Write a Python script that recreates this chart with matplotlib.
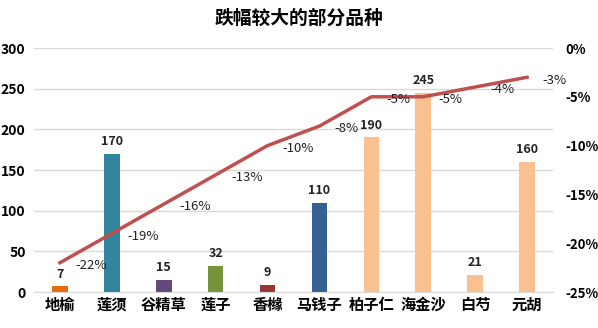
import matplotlib.pyplot as plt
from matplotlib.ticker import FuncFormatter

plt.rcParams['font.family'] = ['Noto Sans CJK SC', 'DejaVu Sans']

categories = ["地榆", "莲须", "谷精草", "莲子", "香橼", "马钱子", "柏子仁", "海金沙", "白芍", "元胡"]
volumes = [7, 170, 15, 32, 9, 110, 190, 245, 21, 160]
declines = [-22, -19, -16, -13, -10, -8, -5, -5, -4, -3]
bar_colors = ["#E46C0A", "#31859C", "#604A7B", "#77933C", "#953735", "#376092",
              "#FAC090", "#FAC090", "#FAC090", "#FAC090"]

fig = plt.figure(figsize=(5.98, 3.28), dpi=100)
ax = fig.add_axes([34 / 598, 36 / 328, 519 / 598, 244 / 328])
x = range(len(categories))

bars = ax.bar(x, volumes, width=0.3, color=bar_colors, zorder=2)
for xi, v in zip(x, volumes):
    ax.annotate(str(v), (xi, v), xytext=(0, 4), textcoords="offset points",
                ha="center", va="bottom", fontsize=9, fontweight="bold", color="#222222")

ax.set_ylim(0, 300)
ax.set_yticks(range(0, 301, 50))
ax.set_xlim(-0.5, len(categories) - 0.5)
ax.set_xticks(list(x))
ax.set_xticklabels(categories, fontsize=11, fontweight="bold")
ax.grid(axis="y", color="#D9D9D9", linewidth=1, zorder=0)
ax.tick_params(axis="both", length=0)
ax.tick_params(axis="y", labelsize=10, pad=6)
for lbl in ax.get_yticklabels():
    lbl.set_fontweight("bold")
for side in ["top", "right", "left"]:
    ax.spines[side].set_visible(False)
ax.spines["bottom"].set_color("#D9D9D9")

ax2 = ax.twinx()
ax2.plot(list(x), declines, color="#C0504D", linewidth=2.5, zorder=3)
for xi, d in zip(x, declines):
    ax2.annotate(f"{d}%", (xi, d), xytext=(11, -2), textcoords="offset points",
                 ha="left", va="center", fontsize=9.5, color="#222222")
ax2.set_ylim(-25, 0)
ax2.set_yticks(range(-25, 1, 5))
ax2.yaxis.set_major_formatter(FuncFormatter(lambda v, _: f"{int(v)}%"))
ax2.tick_params(axis="y", length=0, labelsize=9.5, pad=9)
for lbl in ax2.get_yticklabels():
    lbl.set_fontweight("bold")
for side in ["top", "right", "left", "bottom"]:
    ax2.spines[side].set_visible(False)

fig.text(0.5, 1 - 18 / 328, "跌幅较大的部分品种", ha="center", va="center",
         fontsize=13.5, fontweight="bold")

fig.savefig("out.png", dpi=100)
